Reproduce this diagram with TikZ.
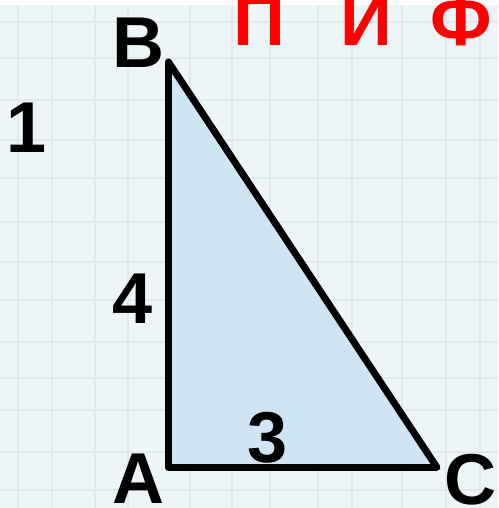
\documentclass[tikz,border=0pt]{standalone}
\usepackage{fontspec}
\setmainfont{Liberation Sans}
\definecolor{bgcol}{HTML}{EEF5F8}
\definecolor{gridcol}{HTML}{E1E9ED}
\definecolor{trifill}{HTML}{D0E5F3}
\definecolor{redtxt}{HTML}{FF0000}
\tikzset{
  lbl/.style={anchor=base, inner sep=0pt, font=\bfseries\fontsize{41}{41}\selectfont, text=black},
  redlbl/.style={lbl, text=redtxt},
  tri/.style={draw=black, line width=7pt*0.567, fill=trifill, line join=round},
  gridline/.style={draw=gridcol, line width=1.6pt}
}
\begin{document}
\begin{tikzpicture}[x=0.02cm, y=-0.02cm]
\useasboundingbox (0,0) rectangle (498,508);
\begin{scope}
\clip (0,0) rectangle (498,508);
\fill[bgcol] (0,0) rectangle (498,508);
\fill[white] (0,0) rectangle (498,5);
\foreach \gx in {18,52,95,128,190,232,270,318,352,402,446,480}
  \draw[gridline] (\gx,5) -- (\gx,508);
\foreach \gy in {22,58,100,140,178,222,262,300,342,378,410,452,490}
  \draw[gridline] (0,\gy) -- (498,\gy);
\coordinate (B) at (168.5,62);
\coordinate (A) at (168.5,467.5);
\coordinate (C) at (437,467.5);
\draw[tri] (B) -- (A) -- (C) -- cycle;
\node[lbl] (lB) at (139,67) {B};
\node[lbl] (lA) at (139,503) {A};
\node[lbl] (lC) at (471,504) {C};
\node[lbl] (l1) at (27,152) {1};
\node[lbl] (l4) at (132.5,323) {4};
\node[lbl] (l3) at (268,462) {3};
\node[redlbl] (r1) at (259,45) {П};
\node[redlbl] (r2) at (366,45) {И};
\node[redlbl] (r3) at (461,45) {Ф};
\end{scope}
\end{tikzpicture}
\end{document}
